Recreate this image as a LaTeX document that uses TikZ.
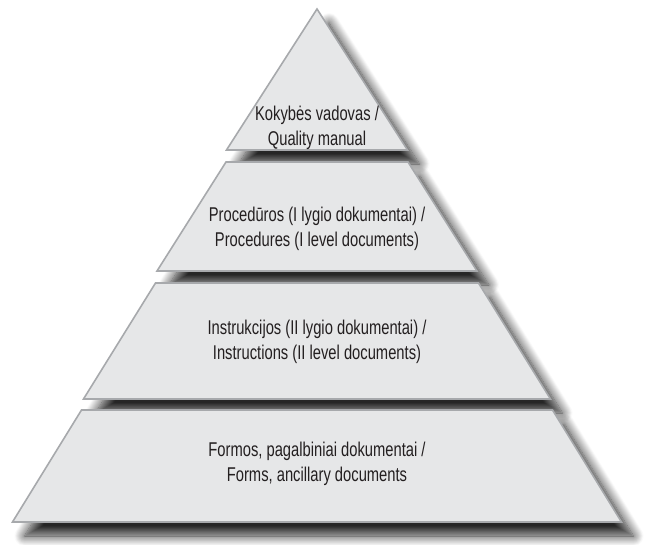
\documentclass[tikz,border=0pt]{standalone}
\usepackage{fontspec}
\setmainfont{Liberation Sans}[FakeStretch=0.74]
\usetikzlibrary{shadows.blur}
\definecolor{layerfill}{HTML}{E6E7E8}
\definecolor{layeredge}{HTML}{A7A9AC}
\definecolor{labeltext}{HTML}{231F20}

\tikzset{
  layer/.style={fill=layerfill, draw=layeredge, line width=1.6bp,
    blur shadow={shadow xshift=12bp, shadow yshift=-14bp,
      shadow blur radius=10bp, shadow blur steps=12, shadow opacity=85}},
  caption/.style={align=center, text=labeltext, inner sep=0pt,
    font=\fontsize{20}{25}\selectfont}
}

\begin{document}
\begin{tikzpicture}[x=1bp,y=-1bp]
\useasboundingbox (0,0) rectangle (648,545);
% top of the pyramid
\draw[layer] (317,9) -- (407.5,150) -- (226.5,150) -- cycle;
% the three lower slices
\foreach \ya/\wa/\yb/\wb in {162/91/271/160, 283/161.5/399/233.5, 410/235.5/522/304.5}
{
	\draw[layer] (317-\wa,\ya) -- (317+\wa,\ya) -- (317+\wb,\yb) -- (317-\wb,\yb) -- cycle;
}
\node[caption] (quality) at (317,128) {Kokybės vadovas /\\Quality manual};
\node[caption] (procedures) at (317,229) {Procedūros (I lygio dokumentai) /\\Procedures (I level documents)};
\node[caption] (instructions) at (317,342) {Instrukcijos (II lygio dokumentai) /\\Instructions (II level documents)};
\node[caption] (forms) at (317,464) {Formos, pagalbiniai dokumentai /\\Forms, ancillary documents};
\end{tikzpicture}
\end{document}
